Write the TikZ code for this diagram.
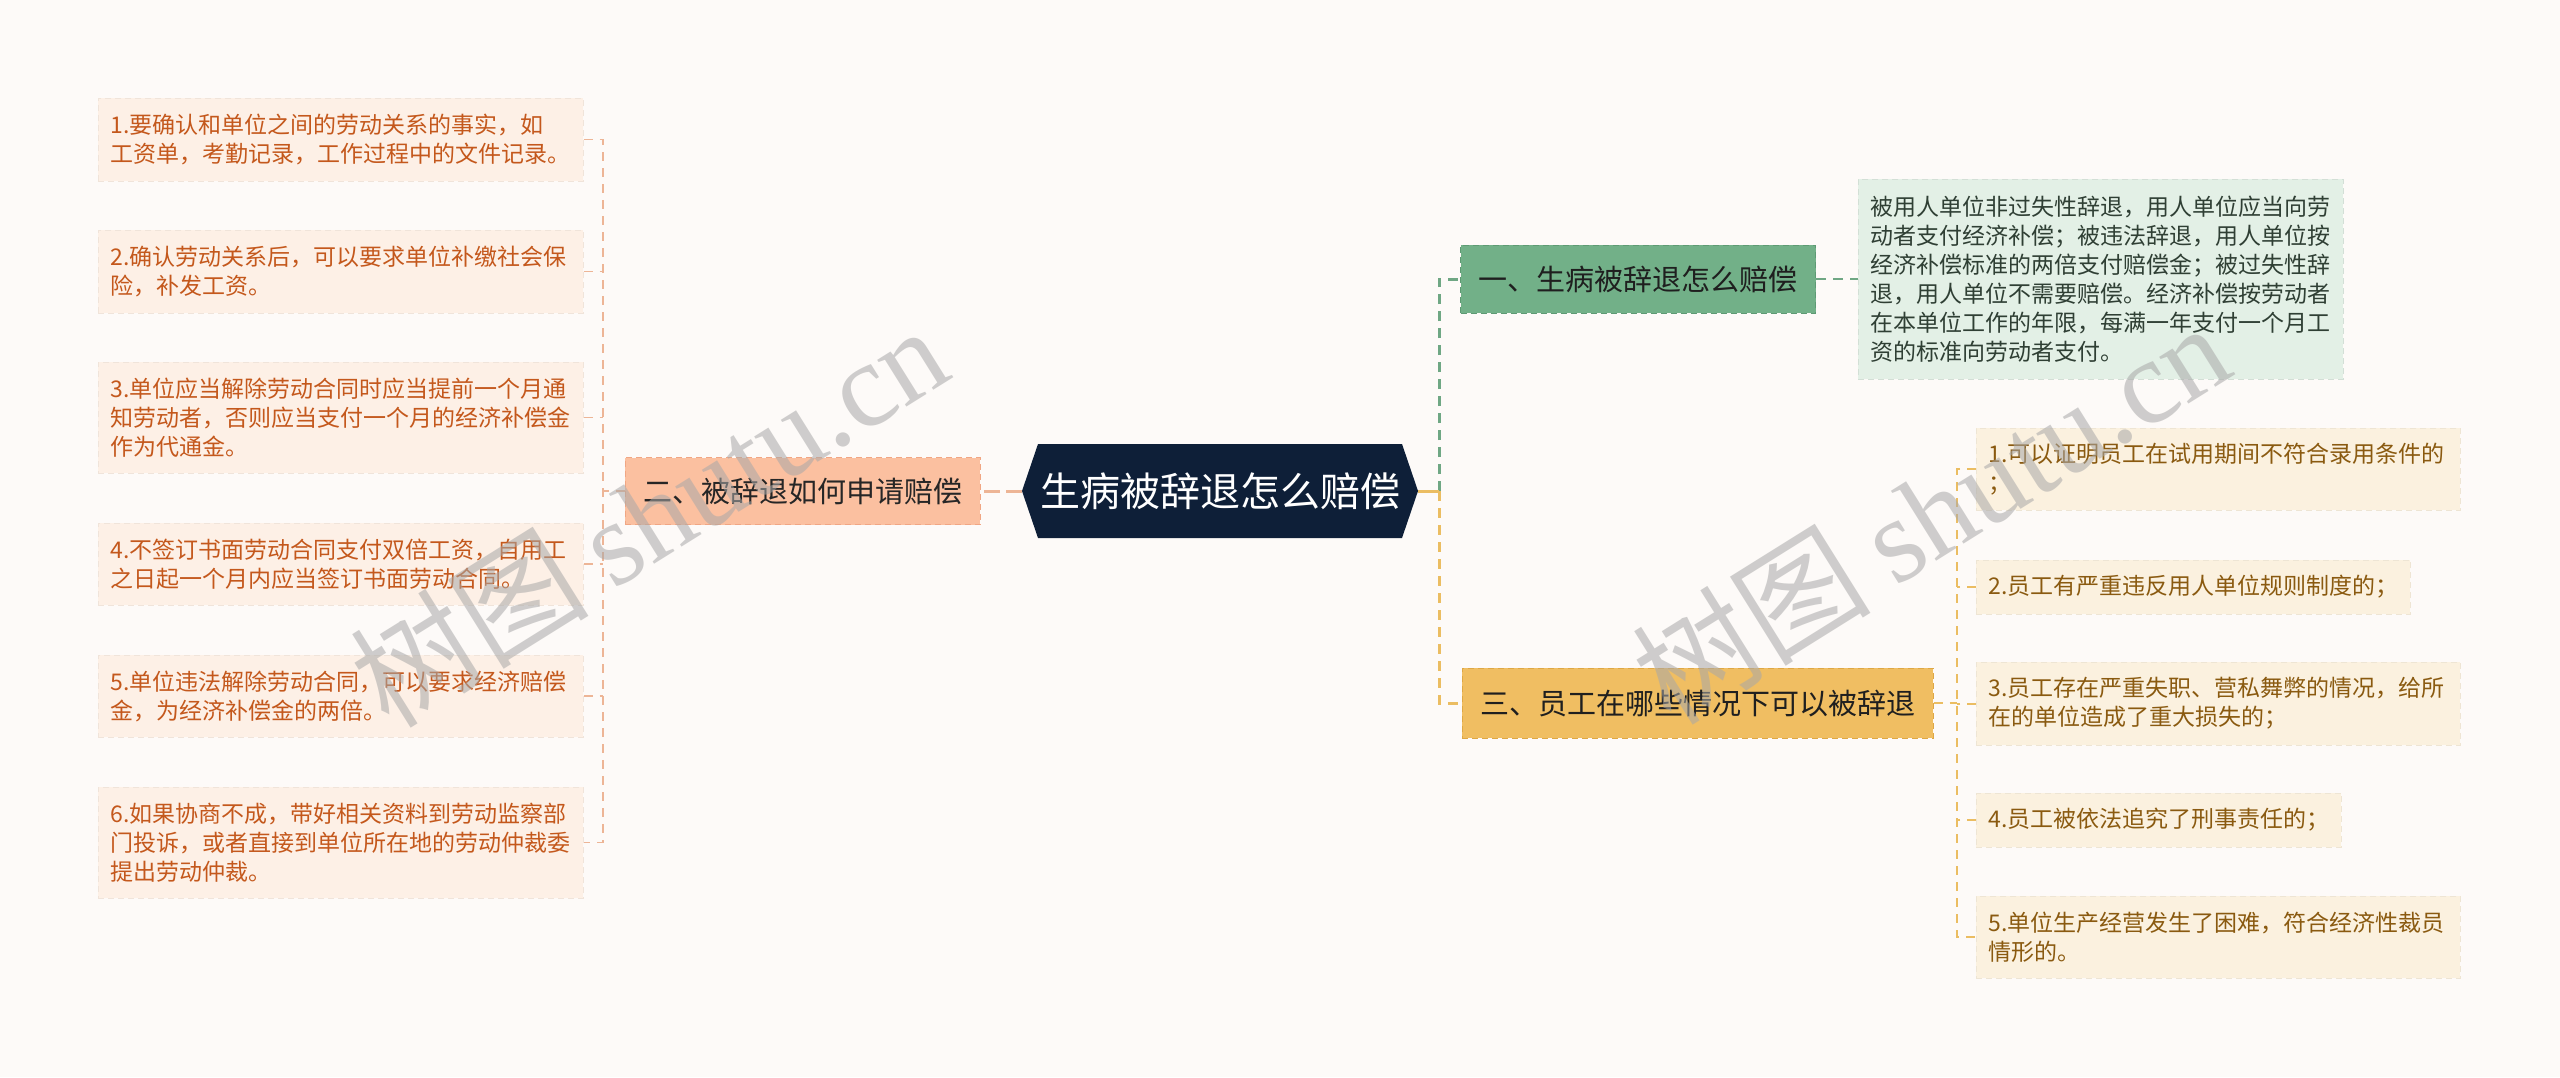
\documentclass[tikz,border=0pt]{standalone}
\usepackage{fontspec}
\setmainfont{Noto Sans CJK SC}
\newfontfamily\cjk{Noto Sans CJK SC}
\newfontfamily\wmlatin{Liberation Serif}
\usetikzlibrary{calc}
\definecolor{bgc}{HTML}{FDFAF8}
\definecolor{lleaf}{HTML}{FDF0E6}
\definecolor{lleaftext}{HTML}{C4581C}
\definecolor{lbranch}{HTML}{FBC0A0}
\definecolor{lbranchb}{HTML}{F0A684}
\definecolor{lline}{HTML}{EDB596}
\definecolor{rootc}{HTML}{0E1F38}
\definecolor{gbranch}{HTML}{72B088}
\definecolor{gbranchb}{HTML}{5E9A74}
\definecolor{gline}{HTML}{6FA784}
\definecolor{detc}{HTML}{E3F0E6}
\definecolor{dettext}{HTML}{2F3F34}
\definecolor{ybranch}{HTML}{F0BE62}
\definecolor{ybranchb}{HTML}{DEA745}
\definecolor{yline}{HTML}{EBBD62}
\definecolor{rleaf}{HTML}{FBF1DF}
\definecolor{rleaftext}{HTML}{8A5A10}
\definecolor{wmc}{HTML}{A8A8A8}
\tikzset{
  leafl/.style={anchor=west, fill=lleaf, draw=lleaf!95!black, dashed, dash pattern=on 6pt off 4pt, line width=0.5pt,
    text=lleaftext, font=\fontsize{23}{29}\selectfont, align=left, text width=461pt, inner xsep=12pt, inner ysep=6pt},
  leafr/.style={anchor=west, fill=rleaf, draw=rleaf!95!black, dashed, dash pattern=on 6pt off 4pt, line width=0.5pt,
    text=rleaftext, font=\fontsize{23}{29}\selectfont, align=left, inner xsep=12pt, inner ysep=6pt},
  branch/.style={font=\fontsize{29}{34}\selectfont, inner xsep=18pt, inner ysep=4pt, dashed, dash pattern=on 6pt off 4pt, line width=1pt},
  conn/.style={line width=2.4pt, dash pattern=on 10pt off 7pt},
  wmark/.style={rotate=32, text=wmc, text opacity=0.55, inner sep=0pt},
}
\begin{document}
\begin{tikzpicture}[x=1pt,y=-1pt]
\useasboundingbox (0,0) rectangle (2560,1077);
\fill[bgc] (0,0) rectangle (2560,1077);

% root hexagon
\fill[rootc] (1022,491) -- (1038,444) -- (1402,444) -- (1418,491) -- (1402,538) -- (1038,538) -- cycle;
\node[minimum width=396pt, minimum height=94pt, inner sep=0pt, text=white, font=\fontsize{40}{46}\selectfont] (root) at (1220,491) {生病被辞退怎么赔偿};

% left branch
\node[branch, fill=lbranch, draw=lbranchb, text=black!85, minimum height=67pt] (lb) at (802.5,491) {二、被辞退如何申请赔偿};

% left leaves
\node[leafl, minimum height=83pt] (l1) at (98,139.5) {1.要确认和单位之间的劳动关系的事实，如\\工资单，考勤记录，工作过程中的文件记录。};
\node[leafl, minimum height=83pt] (l2) at (98,271.5) {2.确认劳动关系后，可以要求单位补缴社会保\\险，补发工资。};
\node[leafl, minimum height=111pt] (l3) at (98,417.5) {3.单位应当解除劳动合同时应当提前一个月通\\知劳动者，否则应当支付一个月的经济补偿金\\作为代通金。};
\node[leafl, minimum height=82pt] (l4) at (98,564) {4.不签订书面劳动合同支付双倍工资，自用工\\之日起一个月内应当签订书面劳动合同。};
\node[leafl, minimum height=82pt] (l5) at (98,696) {5.单位违法解除劳动合同，可以要求经济赔偿\\金，为经济补偿金的两倍。};
\node[leafl, minimum height=111pt] (l6) at (98,842.5) {6.如果协商不成，带好相关资料到劳动监察部\\门投诉，或者直接到单位所在地的劳动仲裁委\\提出劳动仲裁。};

% right branches
\node[branch, fill=gbranch, draw=gbranchb, text=black!88, minimum height=68pt] (g1) at (1638,279) {一、生病被辞退怎么赔偿};
\node[branch, fill=ybranch, draw=ybranchb, text=black!88, minimum height=70pt] (g3) at (1697.5,703) {三、员工在哪些情况下可以被辞退};

% detail
\node[anchor=west, fill=detc, draw=detc!93!black, dashed, dash pattern=on 6pt off 4pt, line width=0.5pt, text=dettext,
  font=\fontsize{23}{29}\selectfont, align=left, text width=461pt, inner xsep=12pt, minimum height=200pt] (det) at (1858,279)
  {被用人单位非过失性辞退，用人单位应当向劳\\动者支付经济补偿；被违法辞退，用人单位按\\经济补偿标准的两倍支付赔偿金；被过失性辞\\退，用人单位不需要赔偿。经济补偿按劳动者\\在本单位工作的年限，每满一年支付一个月工\\资的标准向劳动者支付。};

% right leaves
\node[leafr, text width=460pt, minimum height=82pt] (r1) at (1976,469) {1.可以证明员工在试用期间不符合录用条件的\\；};
\node[leafr, minimum height=54pt] (r2) at (1976,587) {2.员工有严重违反用人单位规则制度的；};
\node[leafr, text width=460pt, minimum height=83pt] (r3) at (1976,703.5) {3.员工存在严重失职、营私舞弊的情况，给所\\在的单位造成了重大损失的；};
\node[leafr, minimum height=54pt] (r4) at (1976,820) {4.员工被依法追究了刑事责任的；};
\node[leafr, text width=460pt, minimum height=82pt] (r5) at (1976,937) {5.单位生产经营发生了困难，符合经济性裁员\\情形的。};

% connector helper coordinates
\coordinate (lx) at (603,0);
\coordinate (vx) at (1439,491);
\coordinate (rx) at (1957,0);

% root connectors
\draw[lline, line width=3pt, dash pattern=on 16pt off 6pt] (root.west) -- (lb.east);
\draw[gline, conn, line width=3pt] (vx) |- (g1.west);
\draw[yline, conn, line width=3pt] (vx) |- (g3.west);
\draw[yline, line width=3pt] (root.east) -- (vx);

% left side
\draw[lline, line width=1.8pt, dash pattern=on 9pt off 7pt] (lb.west) -- (lx |- lb.west);
\draw[lline, line width=1.8pt, dash pattern=on 9pt off 7pt] (l1.east) -| (lx |- l6.east) -- (l6.east);
\foreach \n in {l2,l3,l4,l5}{
  \draw[lline, line width=1.8pt, dash pattern=on 9pt off 7pt] (\n.east) -- (lx |- \n.east);
}

% right side
\draw[gline, conn] (g1.east) -- (det.west);
\draw[yline, line width=2pt, dash pattern=on 9pt off 7pt] (g3.east) -- (rx |- g3.east);
\draw[yline, line width=2pt, dash pattern=on 9pt off 7pt] (r1.west) -| (rx |- r5.west) -- (r5.west);
\foreach \n in {r2,r3,r4}{
  \draw[yline, line width=2pt, dash pattern=on 9pt off 7pt] (\n.west) -- (rx |- \n.west);
}

% watermarks
\node[wmark] (wm1) at (648,515) {\fontsize{120}{120}\selectfont\cjk 树图\hspace{0.2em}\wmlatin shutu.cn};
\node[wmark] (wm2) at (1930,512) {\fontsize{120}{120}\selectfont\cjk 树图\hspace{0.2em}\wmlatin shutu.cn};
\end{tikzpicture}
\end{document}
